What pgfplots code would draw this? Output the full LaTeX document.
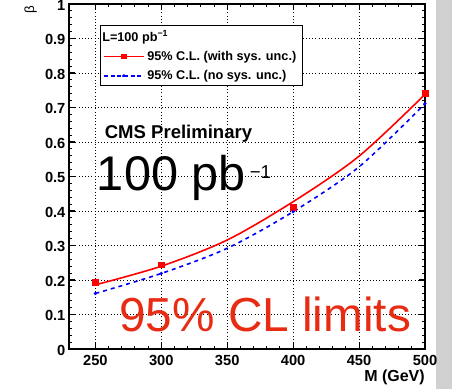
\documentclass[border=0pt]{standalone}
\usepackage{fontspec}
\setmainfont{Liberation Sans}
\usepackage{pgfplots}
\pgfplotsset{compat=1.18}
\definecolor{cmsred}{RGB}{232,44,20}
\pgfplotsset{mylegline/.style={legend image code/.code={\draw[mark repeat=2,mark phase=2,##1] plot coordinates {(0pt,0pt) (15pt,0pt) (30pt,0pt)};}}}
\begin{document}
\begin{tikzpicture}
\useasboundingbox (0,0) rectangle (339pt,291.75pt);
\fill[black!18] (327pt,0pt) rectangle (339pt,291.75pt);
\begin{axis}[
  at={(51.75pt,30pt)}, anchor=south west,
  width=267pt, height=258.75pt, scale only axis,
  xmin=230, xmax=500, ymin=0, ymax=1,
  xtick={250,300,350,400,450,500},
  ytick={0,0.1,0.2,0.3,0.4,0.5,0.6,0.7,0.8,0.9,1},
  minor x tick num=4, minor y tick num=4,
  tick align=inside, major tick length=4.5pt, minor tick length=2.5pt,
  every tick/.style={black, line width=0.8pt},
  axis line style={line width=1.5pt},
  grid=major, major grid style={black, dotted, line width=0.6pt},
  ticklabel style={font=\bfseries\fontsize{11}{12}\selectfont},
  /pgf/number format/assume math mode=true,
  yticklabel style={/pgf/number format/fixed, /pgf/number format/precision=1, inner sep=0pt, xshift=-2.5pt, yshift=-0.9pt},
  xticklabel style={/pgf/number format/set thousands separator={}, inner sep=0pt, yshift=-4.5pt},
  xlabel={M (GeV)},
  xlabel style={at={(rel axis cs:1,0)}, anchor=base east, yshift=-24.5pt, inner sep=0pt, font=\bfseries\fontsize{12}{13}\selectfont},
  legend style={at={(rel axis cs:0.0955,0.933)}, anchor=north west, draw=none, fill=none,
    inner sep=0pt, row sep=2pt, font=\bfseries\fontsize{9.5}{11}\selectfont},
  legend cell align=left,
  clip=false,
]
\addplot[red, line width=1.2pt, smooth, forget plot] coordinates {
  (250,0.186) (300,0.240) (350,0.316) (400,0.427) (450,0.559) (500,0.738)};
\addplot[blue, line width=1.2pt, dash pattern=on 3pt off 3pt, smooth, forget plot] coordinates {
  (250,0.161) (300,0.219) (350,0.292) (400,0.398) (450,0.528) (500,0.711)};
\addplot[red, only marks, mark=square*, mark size=2.1pt, forget plot] coordinates {
  (250,0.193) (300,0.244) (400,0.411) (500,0.742)};
\addplot[blue, only marks, mark=*, mark size=1pt, forget plot] coordinates {
  (250,0.161) (300,0.219) (400,0.398) (500,0.711)};
\draw[black, line width=0.6pt, fill=white] (rel axis cs:0.0871,0.9391) rectangle (rel axis cs:0.6545,0.7632);
\addlegendimage{empty legend}
\addlegendentry{\hspace*{-33.75pt}L=100 pb\textsuperscript{−1}}
\addlegendimage{red, line width=1pt, mark=square*, mark size=1.5pt, mylegline}
\addlegendentry{95\% C.L. (with sys. unc.)}
\addlegendimage{blue, line width=1pt, dash pattern=on 3pt off 2pt, mark=*, mark size=0.8pt, mylegline}
\addlegendentry{95\% C.L. (no sys. unc.)}
\node[rotate=90, inner sep=0pt, font=\fontsize{10}{11}\selectfont] at (axis cs:201,0.985) {β};
\node[anchor=base west, inner sep=0pt, font=\bfseries\fontsize{13.9}{15}\selectfont] at (axis cs:257,0.609) {CMS Preliminary};
\node[anchor=base west, inner sep=0pt, font=\fontsize{36.5}{38}\selectfont] at (axis cs:251,0.458) {100 pb\hspace{3pt}\raisebox{9.5pt}{\fontsize{14}{15}\selectfont −1}};
\node[anchor=base west, inner sep=0pt, text=cmsred, font=\fontsize{35.8}{38}\selectfont] at (axis cs:268,0.052) {95\% CL limits};
\end{axis}
\end{tikzpicture}
\end{document}
